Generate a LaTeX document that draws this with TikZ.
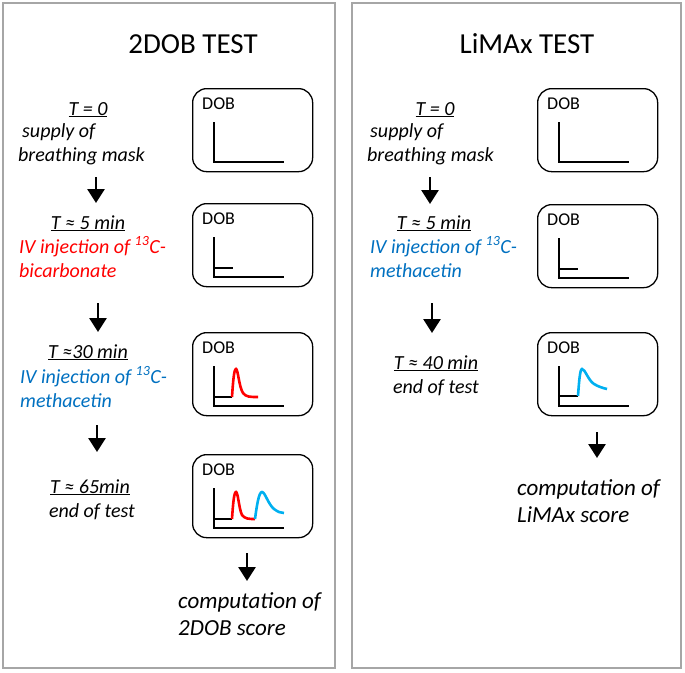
\documentclass[tikz,border=0pt]{standalone}
\usepackage{fontspec}
\setmainfont{Carlito}
\usetikzlibrary{positioning,arrows.meta}

\definecolor{injred}{RGB}{255,0,0}
\definecolor{injblue}{RGB}{0,112,192}
\definecolor{curveblue}{RGB}{0,176,240}
\definecolor{framegray}{RGB}{166,166,166}

\begin{document}
\begin{tikzpicture}[x=1pt,y=-1pt]
    \tikzset{
        panel/.style = {draw=framegray, line width=1.5pt},
        title/.style = {font=\fontsize{29}{34}\selectfont, anchor=base, inner sep=0pt},
        time/.style = {font=\fontsize{20}{24}\selectfont\itshape, anchor=base, inner sep=0pt},
        stepdesc/.style = {font=\fontsize{20}{24}\selectfont\itshape, align=left, anchor=base west, inner sep=0pt},
        result/.style = {font=\fontsize{23}{27}\selectfont\itshape, align=left, anchor=base west, inner sep=0pt},
        dobbox/.style = {draw, rounded corners=14pt, line width=1.3pt, minimum width=120pt, minimum height=83pt, anchor=north west},
        doblabel/.style = {font=\fontsize{18}{20}\selectfont, inner sep=0pt},
        axis/.style = {line width=1.2pt},
        flatline/.style = {line width=2.6pt},
        peak/.style = {line width=2.6pt},
        flow/.style = {line width=2.8pt, -{Triangle[width=17pt,length=14pt]}},
    }
    \useasboundingbox (0,0) rectangle (685,672);

    % frames
    \draw[panel] (3,3) rectangle (335,668);
    \draw[panel] (352,3) rectangle (681,668);

    % 2DOB test (multi-line nodes sit on their last baseline)
    \node [title] (lt) at (193,53) {2DOB TEST};

    \node [time] (lt1) at (88,115) {\underline{T = 0}};
    \node [stepdesc] (ld1) at (18,161) {\hspace{4pt}supply of\\breathing mask};
    \node [time] (lt2) at (88,229) {\underline{T ≈ 5 min}};
    \node [stepdesc,text=injred] (ld2) at (19,277) {IV injection of \textsuperscript{13}C-\\bicarbonate};
    \node [time] (lt3) at (88,358) {\underline{T ≈30 min}};
    \node [stepdesc,text=injblue] (ld3) at (20,407) {IV injection of \textsuperscript{13}C-\\methacetin};
    \node [time] (lt4) at (90,493) {\underline{T ≈ 65min}};
    \node [time] (ld4) at (92,517) {end of test};
    \node [result] (lres) at (178,635) {computation of\\2DOB score};

    \node [dobbox] (lb1) at (192,88) {};
    \node [dobbox] (lb2) at (192,203) {};
    \node [dobbox] (lb3) at (192,332) {};
    \node [dobbox] (lb4) at (192,454) {};
    \foreach \b in {lb1,lb2,lb3,lb4}{
        \node [doblabel, below right=10pt and 10pt of \b.north west] (\b lab) {DOB};
        \draw[axis] ([shift={(22,34)}]\b.north west) |- ([shift={(92,74)}]\b.north west);
    }
    \begin{scope}[shift={(lb2.north west)}]
        \draw[flatline] (22,65) -- (41,65);
    \end{scope}
    \begin{scope}[shift={(lb3.north west)}]
        \draw[flatline] (22,65) -- (40,65);
        \draw[peak,injred] (40,65) .. controls (41,50) and (42,37) .. (44,37) .. controls (46,37) and (47,55) .. (51,61) .. controls (54,65) and (58,65) .. (66,65);
    \end{scope}
    \begin{scope}[shift={(lb4.north west)}]
        \draw[flatline] (22,65) -- (40,65);
        \draw[peak,injred] (40,65) .. controls (41,50) and (42,38) .. (44,38) .. controls (46,38) and (47,55) .. (50,61) .. controls (53,65) and (57,65) .. (63,65);
        \draw[peak,curveblue] (63,65) .. controls (65,50) and (67,38) .. (70,38) .. controls (73,38) and (76,50) .. (82,55) .. controls (86,58) and (89,59) .. (92,59);
    \end{scope}

    \coordinate (la1s) at (96,177);
    \coordinate (la1e) at (96,203);
    \coordinate (la2s) at (98,303);
    \coordinate (la2e) at (98,332);
    \coordinate (la3s) at (97,425);
    \coordinate (la3e) at (97,452);
    \coordinate (la4s) at (247,553);
    \coordinate (la4e) at (247,581);
    \draw[flow] (la1s) -- (la1e);
    \draw[flow] (la2s) -- (la2e);
    \draw[flow] (la3s) -- (la3e);
    \draw[flow] (la4s) -- (la4e);

    % LiMAx test
    \node [title] (rt) at (527,53) {LiMAx TEST};

    \node [time] (rt1) at (435,115) {\underline{T = 0}};
    \node [stepdesc] (rd1) at (367,161) {\hspace{3pt}supply of\\breathing mask};
    \node [time] (rt2) at (434,229) {\underline{T ≈ 5 min}};
    \node [stepdesc,text=injblue] (rd2) at (370,277) {IV injection of \textsuperscript{13}C-\\methacetin};
    \node [time] (rt3) at (436,369) {\underline{T ≈ 40 min}};
    \node [time] (rd3) at (436,393) {end of test};
    \node [result] (rres) at (517,522) {computation of\\LiMAx score};

    \node [dobbox] (rb1) at (537,88) {};
    \node [dobbox] (rb2) at (537,204) {};
    \node [dobbox] (rb3) at (537,332) {};
    \foreach \b in {rb1,rb2,rb3}{
        \node [doblabel, below right=10pt and 10pt of \b.north west] (\b lab) {DOB};
        \draw[axis] ([shift={(22,34)}]\b.north west) |- ([shift={(92,74)}]\b.north west);
    }
    \begin{scope}[shift={(rb2.north west)}]
        \draw[flatline] (22,65) -- (41,65);
    \end{scope}
    \begin{scope}[shift={(rb3.north west)}]
        \draw[flatline] (22,64) -- (41,64);
        \draw[peak,curveblue] (41,64) .. controls (42,50) and (43,37) .. (45,37) .. controls (48,37) and (51,48) .. (57,52) .. controls (62,55) and (66,56) .. (70,57);
    \end{scope}

    \coordinate (ra1s) at (430,177);
    \coordinate (ra1e) at (430,204);
    \coordinate (ra2s) at (432,303);
    \coordinate (ra2e) at (432,333);
    \coordinate (ra3s) at (597,432);
    \coordinate (ra3e) at (597,458);
    \draw[flow] (ra1s) -- (ra1e);
    \draw[flow] (ra2s) -- (ra2e);
    \draw[flow] (ra3s) -- (ra3e);
\end{tikzpicture}
\end{document}
